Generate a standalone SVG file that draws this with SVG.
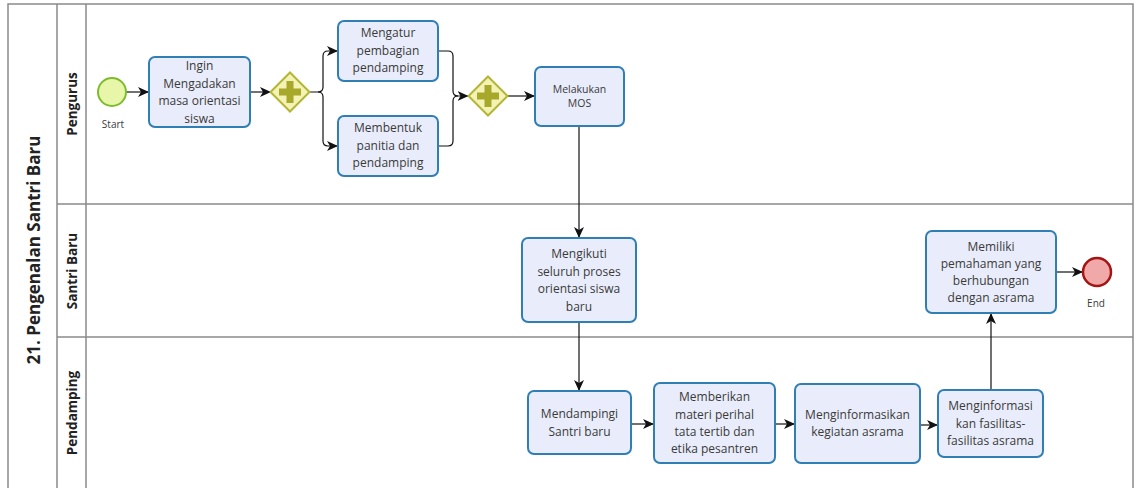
<svg xmlns="http://www.w3.org/2000/svg" width="1139" height="488" viewBox="0 0 1139 488">
<style>
.pool{fill:#fff;stroke:#8a8a8a;stroke-width:1.5}
.ln{stroke:#8a8a8a;stroke-width:1.5;fill:none}
.task{fill:#e9edfb;stroke:#2f7fb5;stroke-width:2}
.t{font-family:"Open Sans","Liberation Sans",sans-serif;font-size:12px;fill:#3a3a3a;text-anchor:middle}
.ts{font-family:"Open Sans","Liberation Sans",sans-serif;font-size:10.5px;fill:#3a3a3a;text-anchor:middle}
.lbl{font-family:"Open Sans","Liberation Sans",sans-serif;font-size:10px;fill:#3a3a3a;text-anchor:middle}
.lane{font-family:"Open Sans","Liberation Sans",sans-serif;font-size:13.5px;font-weight:bold;fill:#222;text-anchor:middle;dominant-baseline:central}
.pooltxt{font-family:"Open Sans","Liberation Sans",sans-serif;font-size:17px;font-weight:bold;fill:#222;text-anchor:middle;dominant-baseline:central}
.gw{fill:#f3f3b5;stroke:#b5b535;stroke-width:2}
.plus{fill:#a8a82a}
.c{fill:none;stroke:#111;stroke-width:1.2}
</style>
<defs>
<marker id="ah" markerUnits="userSpaceOnUse" markerWidth="12" markerHeight="10" refX="11" refY="5" orient="auto">
<path d="M0,0 L11,5 L0,10 L3,5 Z" fill="#111"/>
</marker>
</defs>

<g id="pool">
<rect class="pool" x="8" y="4" width="1125" height="500"/>
<line class="ln" x1="57" y1="4" x2="57" y2="504"/>
<line class="ln" x1="86" y1="4" x2="86" y2="504"/>
<line class="ln" x1="57" y1="204" x2="1133" y2="204"/>
<line class="ln" x1="57" y1="337" x2="1133" y2="337"/>
<text class="pooltxt" transform="translate(33,250) rotate(-90)">21. Pengenalan Santri Baru</text>
</g>
<g id="lane-pengurus"><text class="lane" transform="translate(72,104) rotate(-90)">Pengurus</text></g>
<g id="lane-santri"><text class="lane" transform="translate(72,271) rotate(-90)">Santri Baru</text></g>
<g id="lane-pendamping"><text class="lane" transform="translate(72,413) rotate(-90)">Pendamping</text></g>

<g id="connectors">
<path class="c" d="M126,92 H149" marker-end="url(#ah)"/>
<path class="c" d="M250,92 H271" marker-end="url(#ah)"/>
<path class="c" d="M309.5,92 H318 Q323,92 323,87 V56 Q323,51 328,51 H338" marker-end="url(#ah)"/>
<path class="c" d="M318,92 Q323,92 323,97 V141 Q323,146 328,146 H338" marker-end="url(#ah)"/>
<path class="c" d="M438,51 H448 Q453,51 453,56 V91 Q453,96 458,96 H468.5" marker-end="url(#ah)"/>
<path class="c" d="M438,146 H448 Q453,146 453,141 V101 Q453,96 458,96"/>
<path class="c" d="M507.5,96 H535" marker-end="url(#ah)"/>
<path class="c" d="M579,126 V238" marker-end="url(#ah)"/>
<path class="c" d="M579,322 V391" marker-end="url(#ah)"/>
<path class="c" d="M631,424 H654" marker-end="url(#ah)"/>
<path class="c" d="M775,424 H795" marker-end="url(#ah)"/>
<path class="c" d="M920,425 H938" marker-end="url(#ah)"/>
<path class="c" d="M991,390 V313" marker-end="url(#ah)"/>
<path class="c" d="M1056,272 H1083" marker-end="url(#ah)"/>
</g>

<g id="start">
<circle cx="112" cy="92" r="14" fill="#e7f6a8" stroke="#7fbb2e" stroke-width="2"/>
<text class="lbl" x="113" y="128">Start</text>
</g>

<g id="t1">
<rect class="task" x="149" y="57" width="101" height="70" rx="6"/>
<text class="t" x="199.5" y="70">Ingin</text>
<text class="t" x="199.5" y="87.5">Mengadakan</text>
<text class="t" x="199.5" y="105">masa orientasi</text>
<text class="t" x="199.5" y="122.5">siswa</text>
</g>

<g id="g1">
<polygon class="gw" points="290,72.5 309.5,92 290,111.5 270.5,92"/>
<path class="plus" d="M286.5,81 H293.5 V88.5 H301 V95.5 H293.5 V103 H286.5 V95.5 H279 V88.5 H286.5 Z"/>
</g>

<g id="t2">
<rect class="task" x="338" y="21" width="100" height="60" rx="6"/>
<text class="t" x="388" y="37">Mengatur</text>
<text class="t" x="388" y="54.5">pembagian</text>
<text class="t" x="388" y="72">pendamping</text>
</g>

<g id="t3">
<rect class="task" x="338" y="116" width="100" height="60" rx="6"/>
<text class="t" x="388" y="132">Membentuk</text>
<text class="t" x="388" y="149.5">panitia dan</text>
<text class="t" x="388" y="167">pendamping</text>
</g>

<g id="g2">
<polygon class="gw" points="488,76.5 507.5,96 488,115.5 468.5,96"/>
<path class="plus" d="M484.5,85 H491.5 V92.5 H499 V99.5 H491.5 V107 H484.5 V99.5 H477 V92.5 H484.5 Z"/>
</g>

<g id="t4">
<rect class="task" x="535" y="67" width="89" height="59" rx="6"/>
<text class="ts" x="579.5" y="92.5">Melakukan</text>
<text class="ts" x="579.5" y="106.5">MOS</text>
</g>

<g id="t5">
<rect class="task" x="522" y="238" width="114" height="84" rx="6"/>
<text class="t" x="579" y="258">Mengikuti</text>
<text class="t" x="579" y="275.5">seluruh proses</text>
<text class="t" x="579" y="293">orientasi siswa</text>
<text class="t" x="579" y="310.5">baru</text>
</g>

<g id="t6">
<rect class="task" x="926" y="231" width="130" height="82" rx="6"/>
<text class="t" x="991" y="251">Memiliki</text>
<text class="t" x="991" y="268">pemahaman yang</text>
<text class="t" x="991" y="285">berhubungan</text>
<text class="t" x="991" y="302">dengan asrama</text>
</g>

<g id="end">
<circle cx="1097" cy="272" r="14" fill="#f0a8a8" stroke="#a31515" stroke-width="2.5"/>
<text class="lbl" x="1096" y="307">End</text>
</g>

<g id="t7">
<rect class="task" x="528" y="391" width="103" height="63" rx="6"/>
<text class="t" x="579.5" y="418">Mendampingi</text>
<text class="t" x="579.5" y="435.5">Santri baru</text>
</g>

<g id="t8">
<rect class="task" x="654" y="383" width="121" height="80" rx="6"/>
<text class="t" x="714.5" y="401">Memberikan</text>
<text class="t" x="714.5" y="418.5">materi perihal</text>
<text class="t" x="714.5" y="436">tata tertib dan</text>
<text class="t" x="714.5" y="453">etika pesantren</text>
</g>

<g id="t9">
<rect class="task" x="795" y="384" width="125" height="79" rx="6"/>
<text class="t" x="857.5" y="419">Menginformasikan</text>
<text class="t" x="857.5" y="436">kegiatan asrama</text>
</g>

<g id="t10">
<rect class="task" x="938" y="390" width="105" height="67" rx="6"/>
<text class="t" x="990.5" y="410">Menginformasi</text>
<text class="t" x="990.5" y="427.5">kan fasilitas-</text>
<text class="t" x="990.5" y="445">fasilitas asrama</text>
</g>
</svg>
